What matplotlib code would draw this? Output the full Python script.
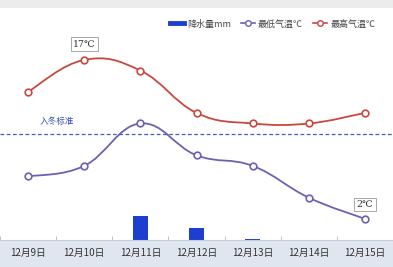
import matplotlib
matplotlib.use('Agg')
import matplotlib.pyplot as plt
from matplotlib.path import Path
from matplotlib.patches import PathPatch, Rectangle
from matplotlib.lines import Line2D
import numpy as np

plt.rcParams['font.family'] = ['Noto Sans CJK SC', 'DejaVu Sans']

dates = ['12月9日', '12月10日', '12月11日', '12月12日', '12月13日', '12月14日', '12月15日']
max_temp = [14, 17, 16, 12, 11, 11, 12]
min_temp = [6, 7, 11, 8, 7, 4, 2]
rain = [0, 0, 2.1, 1.0, 0.1, 0, 0]
winter_line = 10

red = '#c8483e'
purple = '#6f5fb4'
blue = '#1d3fd0'


def smooth_path(xs, ys, t=0.4):
    # bezier through the points, excel-like smoothing
    xs = np.asarray(xs, float)
    ys = np.asarray(ys, float)
    n = len(xs)
    verts = [(xs[0], ys[0])]
    codes = [Path.MOVETO]
    for i in range(n - 1):
        p0 = np.array([xs[max(i - 1, 0)], ys[max(i - 1, 0)]])
        p1 = np.array([xs[i], ys[i]])
        p2 = np.array([xs[i + 1], ys[i + 1]])
        p3 = np.array([xs[min(i + 2, n - 1)], ys[min(i + 2, n - 1)]])
        c1 = p1 + (p2 - p0) * t / 2
        c2 = p2 - (p3 - p1) * t / 2
        verts += [tuple(c1), tuple(c2), tuple(p2)]
        codes += [Path.CURVE4] * 3
    return Path(verts, codes)


fig = plt.figure(figsize=(3.93, 2.67), dpi=100)
fig.patch.set_facecolor('#dfe6ef')
fig.patches.append(Rectangle((0, 0.101), 1, 0.869, transform=fig.transFigure,
                             facecolor='white', edgecolor='none', zorder=-5))
fig.patches.append(Rectangle((0, 0.97), 1, 0.03, transform=fig.transFigure,
                             facecolor='#ececec', edgecolor='none', zorder=-5))

ax = fig.add_axes([0, 0.101, 1, 0.869])
ax2 = ax.twinx()
ax2.set_zorder(1)
ax.set_zorder(2)
ax.patch.set_visible(False)
ax2.patch.set_visible(False)

x = np.arange(len(dates))
ax2.bar(x, rain, width=0.26, color=blue, zorder=2)
ax2.set_ylim(0, 20)
ax2.axis('off')

for ys, c in [(max_temp, red), (min_temp, purple)]:
    ax.add_patch(PathPatch(smooth_path(x, ys), facecolor='none', edgecolor=c, lw=1.3, zorder=3))
    ax.plot(x, ys, ls='none', marker='o', ms=4.8, mfc='white', mec=c, mew=1.2, zorder=4)

ax.axhline(winter_line, color='#3f5fbf', ls=(0, (3, 2)), lw=0.9, zorder=2)
ax.text(0.52, winter_line + 0.8, '入冬标准', color='#2f4fae', fontsize=6.2, ha='center', va='bottom')

bbox = dict(boxstyle='square,pad=0.25', fc='white', ec='#a8a8a8', lw=0.7)
ax.annotate(f'{max_temp[1]}℃', (1, max_temp[1]), xytext=(0, 8), textcoords='offset points',
            ha='center', va='bottom', fontsize=6.8, bbox=bbox, color='#333333',
            family=['DejaVu Serif', 'Noto Sans CJK SC'])
ax.annotate(f'{min_temp[6]}℃', (6, min_temp[6]), xytext=(0, 7), textcoords='offset points',
            ha='center', va='bottom', fontsize=6.8, bbox=bbox, color='#333333',
            family=['DejaVu Serif', 'Noto Sans CJK SC'])

ax.set_xlim(-0.45, 6.35)
ax.set_ylim(0, 21.9)
ax.set_yticks([])
ax.set_xticks(x)
ax.set_xticklabels(dates, fontsize=7, color='#333333')
ax.set_xticks(np.arange(-0.5, 7, 1), minor=True)
ax.tick_params(axis='x', which='major', length=0, pad=6)
ax.tick_params(axis='x', which='minor', length=3, color='#b0b8c4', direction='in')
for s in ['top', 'right', 'left']:
    ax.spines[s].set_visible(False)
ax.spines['bottom'].set_color('#c4ccd6')
ax.spines['bottom'].set_linewidth(0.8)

handles = [
    Line2D([], [], color=blue, lw=3.5),
    Line2D([], [], color=purple, lw=1.2, marker='o', ms=4, mfc='white', mec=purple),
    Line2D([], [], color=red, lw=1.2, marker='o', ms=4, mfc='white', mec=red),
]
ax.legend(handles, ['降水量mm', '最低气温℃', '最高气温℃'], loc='upper right',
          bbox_to_anchor=(0.975, 0.985), ncol=3, frameon=False, fontsize=6.5,
          handlelength=1.6, handletextpad=0.3, columnspacing=1.1, labelcolor='#444444')

fig.savefig('out.png', dpi=100, facecolor=fig.get_facecolor())
